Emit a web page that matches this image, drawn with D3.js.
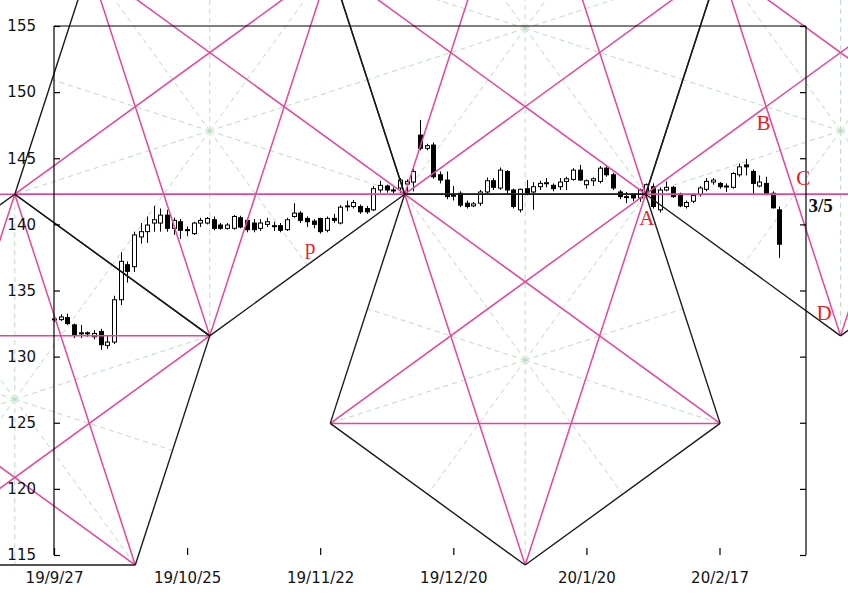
<!DOCTYPE html>
<html><head><meta charset="utf-8">
<script src="https://cdn.jsdelivr.net/npm/d3@7/dist/d3.min.js"></script>
<style>body{margin:0;background:#fff}svg{display:block}</style>
</head><body>
<svg id="c" width="848" height="608"></svg>
<script>
// ---- data ----
const tickIndex = [0, 20, 40, 60, 80, 100];
const tickLabels = ["19/9/27", "19/10/25", "19/11/22", "19/12/20", "20/1/20", "20/2/17"];
const yTicks = [115, 120, 125, 130, 135, 140, 145, 150, 155];

const openP = [132.85,132.8,132.95,132.4,131.75,131.8,131.5,131.9,130.85,131.1,
134.3,136.95,136.8,139.05,139.45,140.1,140.1,140.7,139.7,140.2,
139.6,139.3,140.1,140.1,140.35,139.95,139.7,139.7,140.5,140.3,
140.1,139.7,140.0,139.9,139.9,139.6,140.6,140.85,140.45,140.25,
140.45,139.55,140.45,140.1,141.35,141.35,141.35,141.2,141.1,142.6,
142.9,142.55,142.75,143.05,143.2,146.75,145.75,146.0,143.75,143.35,
142.15,142.35,141.6,141.4,141.6,142.45,143.3,142.75,144.0,142.6,
141.1,142.7,142.45,142.85,143.1,142.95,142.85,143.25,143.4,144.1,
143.0,143.3,143.25,144.25,143.75,142.45,142.1,142.3,142.0,142.45,
142.85,141.1,142.6,142.8,142.3,141.35,141.75,142.25,142.65,143.2,
143.1,142.9,142.8,143.75,144.5,144.0,142.9,143.1,142.35,141.1];
const highP = [133.05,133.2,133.25,132.5,132.4,131.9,132.0,132.1,131.6,134.6,
137.9,137.2,139.45,140.1,140.6,141.4,141.2,141.1,140.5,140.4,
139.85,140.2,140.5,140.55,140.6,140.1,140.1,140.7,140.65,140.5,
140.4,140.4,140.5,140.2,140.1,140.5,141.6,141.0,140.6,140.4,
140.5,140.6,140.8,141.45,141.8,141.85,141.5,141.4,142.9,143.3,
143.0,142.8,143.5,143.4,144.2,147.9,146.1,146.2,144.0,144.0,
142.9,142.5,141.8,141.7,142.6,143.55,143.5,144.3,144.1,142.7,
142.7,143.35,143.2,143.3,143.5,143.1,143.5,143.6,144.25,144.5,
143.4,143.55,144.4,144.4,143.9,142.6,142.45,142.35,142.7,143.1,
143.1,142.8,143.25,142.9,142.4,141.8,142.35,142.9,143.5,143.5,
143.2,143.1,143.95,144.6,144.95,144.15,143.7,143.6,142.5,141.35];
const lowP = [132.6,132.7,132.4,131.4,131.4,131.5,131.3,130.5,130.6,130.95,
133.9,135.6,136.4,138.55,138.6,139.45,139.45,139.45,139.2,138.9,
139.1,139.2,139.8,140.0,139.55,139.6,139.6,139.6,139.7,139.4,
139.4,139.5,139.8,139.5,139.4,139.5,140.5,140.1,139.8,139.7,
139.3,139.4,140.1,140.0,141.0,141.2,140.8,140.8,141.0,142.4,
142.4,142.3,142.4,142.4,142.5,145.6,145.6,143.45,143.1,141.9,
141.8,141.3,141.2,141.3,141.4,142.3,142.6,142.6,142.3,141.2,
140.9,142.2,141.1,142.6,142.8,142.5,142.6,142.6,143.3,143.3,
142.7,142.9,143.1,143.6,142.6,141.9,141.6,141.75,141.7,142.0,
141.2,140.9,142.5,142.0,141.3,141.2,141.6,142.1,142.5,143.0,
142.7,142.45,142.7,143.6,143.7,142.3,142.8,142.2,141.2,137.45];
const closeP = [132.8,133.0,132.5,131.65,131.8,131.75,131.75,130.9,131.1,134.3,
137.2,136.45,139.2,139.45,139.95,140.35,140.7,139.7,140.3,139.55,
139.55,140.1,140.3,140.45,139.7,139.7,139.95,140.6,139.8,139.6,
139.6,140.1,140.2,139.85,139.55,140.35,140.85,140.3,140.2,140.0,
139.45,140.45,140.3,141.3,141.4,141.65,140.95,140.95,142.7,142.95,
142.6,142.6,143.35,143.25,144.0,145.75,145.95,143.6,143.35,142.1,
142.2,141.45,141.35,141.55,142.45,143.3,142.8,144.1,142.6,141.35,
142.65,142.35,142.85,143.1,143.15,142.7,143.2,143.45,144.1,143.35,
143.3,143.45,144.25,143.75,142.75,142.1,142.1,142.0,142.6,143.0,
141.35,142.6,142.8,142.1,141.4,141.65,142.2,142.75,143.25,143.35,
142.85,142.85,143.85,144.35,144.35,143.1,143.2,142.35,141.25,138.5];

// pentagon figures: centre (bar index, price) and orientation
const pentCenterX = [70.8, 23.404, 118.196, -5.889, 70.8];
const pentCenterY = [129.74, 147.07, 147.07, 126.78, 154.82];
const pentPointsDown = [true, true, true, false, false];
const pentRadiusBars = 30.8;
const pentRadiusPrice = 15.5;
const levelPrice = 142.28;

const noteText = ["p", "A", "B", "C", "D", "3/5"];
const noteX = [38.5, 89.1, 106.6, 112.6, 115.7, 115.2];
const noteY = [137.76, 139.95, 147.14, 142.98, 132.77, 140.94];
const noteColor = ["#e8202a","#e8202a","#e8202a","#e8202a","#e8202a","#111"];

// ---- scales ----
const x = d3.scaleLinear().domain([0, 100]).range([54, 719.5]);
const y = d3.scaleLinear().domain([115, 155]).range([555, 26]);
const svg = d3.select("#c");
const PINK = "#e3479b", BLACK = "#1a1a1a", GREEN = "#b9dcbf";

// pentagon geometry
function verts(k) {
  const s = pentPointsDown[k] ? -1 : 1;
  return d3.range(5).map(j => {
    const t = j * 72 * Math.PI / 180;
    return [x(pentCenterX[k] + pentRadiusBars * Math.sin(t)), y(pentCenterY[k] + s * pentRadiusPrice * Math.cos(t))];
  });
}
const gGreen = svg.append("g");
const gPink = svg.append("g");
const gBlack = svg.append("g");

pentCenterX.forEach((cx, k) => {
  const v = verts(k);
  const c = [x(cx), y(pentCenterY[k])];
  v.forEach((p, j) => {
    const q = v[(j + 1) % 5];
    const m = [(p[0] + q[0]) / 2, (p[1] + q[1]) / 2];
    [p, m].forEach(e => gGreen.append("line").attr("x1", c[0]).attr("y1", c[1]).attr("x2", e[0]).attr("y2", e[1])
      .attr("stroke", GREEN).attr("stroke-width", 1).attr("stroke-dasharray", "5,4"));
    const r = v[(j + 2) % 5];
    gPink.append("line").attr("x1", p[0]).attr("y1", p[1]).attr("x2", r[0]).attr("y2", r[1])
      .attr("stroke", PINK).attr("stroke-width", 1.5);
    gBlack.append("line").attr("x1", p[0]).attr("y1", p[1]).attr("x2", q[0]).attr("y2", q[1])
      .attr("stroke", BLACK).attr("stroke-width", 1.4);
  });
});
gPink.insert("line", ":first-child").attr("x1", 0).attr("x2", 848).attr("y1", y(levelPrice)).attr("y2", y(levelPrice))
  .attr("stroke", PINK).attr("stroke-width", 1.5);

// candles (under the lines)
const gC = svg.insert("g", "g:nth-child(2)");
openP.forEach((o, i) => {
  const c = closeP[i], up = c >= o;
  const xc = Math.round(x(i)) + 0.5;
  gC.append("line").attr("x1", xc).attr("x2", xc).attr("y1", y(highP[i])).attr("y2", y(lowP[i]))
    .attr("stroke", "#000").attr("stroke-width", 1);
  const top = y(Math.max(o, c)), bot = y(Math.min(o, c));
  gC.append("rect").attr("x", xc - 2).attr("y", top).attr("width", 4).attr("height", Math.max(bot - top, 1))
    .attr("fill", up ? "#fff" : "#000").attr("stroke", "#000").attr("stroke-width", 1);
});

// frame & axes
const frame = svg.append("g").attr("stroke", "#000").attr("stroke-width", 1.2);
frame.append("line").attr("x1", 54).attr("x2", 54).attr("y1", y(155)).attr("y2", y(115));
frame.append("line").attr("x1", 54).attr("x2", 806).attr("y1", y(155)).attr("y2", y(155));
frame.append("line").attr("x1", 806).attr("x2", 806).attr("y1", y(155)).attr("y2", y(115));

const fontFam = "'DejaVu Sans', Verdana, sans-serif";
const ax = svg.append("g").attr("transform", "translate(54,0)")
  .call(d3.axisLeft(y).tickValues(yTicks).tickFormat(d3.format("d")).tickSize(-6).tickSizeOuter(0).tickPadding(18));
ax.select(".domain").remove();
const ar = svg.append("g").attr("transform", "translate(806,0)")
  .call(d3.axisRight(y).tickValues(yTicks).tickFormat("").tickSize(-6).tickSizeOuter(0));
ar.select(".domain").remove();
const axb = svg.append("g").attr("transform", `translate(0,${y(115)})`)
  .call(d3.axisBottom(x).tickValues(tickIndex).tickFormat((d, i) => tickLabels[i]).tickSize(-7).tickSizeOuter(0).tickPadding(17));
axb.select(".domain").remove();
[ax, ar, axb].forEach(g => {
  g.selectAll("text").attr("font-family", fontFam).attr("font-size", 15).attr("fill", "#111");
  g.selectAll("line").attr("stroke", "#000").attr("stroke-width", 1.2);
});

// annotations
noteText.forEach((t, i) => {
  svg.append("text").attr("x", x(noteX[i])).attr("y", y(noteY[i])).attr("text-anchor", "middle")
    .attr("font-family", "'Liberation Serif', 'DejaVu Serif', serif").attr("font-size", t === "3/5" ? 19 : 21)
    .attr("font-weight", t === "3/5" ? "bold" : "normal")
    .attr("fill", noteColor[i]).text(t);
});
</script>
</body></html>
